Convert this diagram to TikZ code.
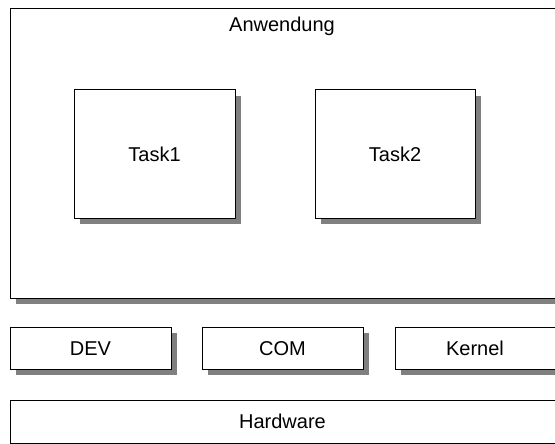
\documentclass[tikz,border=0pt]{standalone}
\usepackage{fontspec}
\setmainfont{Liberation Sans}
\usetikzlibrary{shadows}
\definecolor{shadowgray}{RGB}{128,128,128}
\tikzset{
  block/.style={draw=black, line width=1pt, fill=white, rectangle, inner sep=0pt,
    anchor=north west,
    drop shadow={shadow xshift=6pt, shadow yshift=-6pt, fill=shadowgray, opacity=1}},
  % caps are centred: the text box is exactly one cap height tall
  label text/.style={font=\fontsize{20}{22}\selectfont, text=black,
    text height=14.3pt, text depth=0pt}
}
\begin{document}
\begin{tikzpicture}[x=1pt, y=-1pt]
  \useasboundingbox (0,0) rectangle (555,444);
  % application layer with its two tasks
  \node[block, minimum width=545pt, minimum height=289pt] (app) at (9.5,8.5) {};
  \node[label text, inner sep=0pt] (applabel) at (282,24) {Anwendung};
  \node[block, minimum width=161pt, minimum height=128pt, label text] (task1) at (73.5,89.5) {Task1};
  \node[block, minimum width=160pt, minimum height=128pt, label text] (task2) at (314.5,89.5) {Task2};
  % system services
  \node[block, minimum width=161pt, minimum height=42pt, label text] (dev) at (9.5,326.5) {DEV};
  \node[block, minimum width=161pt, minimum height=42pt, label text] (com) at (201.5,326.5) {COM};
  \node[block, minimum width=160pt, minimum height=42pt, label text] (kernel) at (394.5,326.5) {Kernel};
  % hardware
  \node[block, minimum width=545pt, minimum height=43pt, label text] (hw) at (9.5,399.5) {Hardware};
\end{tikzpicture}
\end{document}
